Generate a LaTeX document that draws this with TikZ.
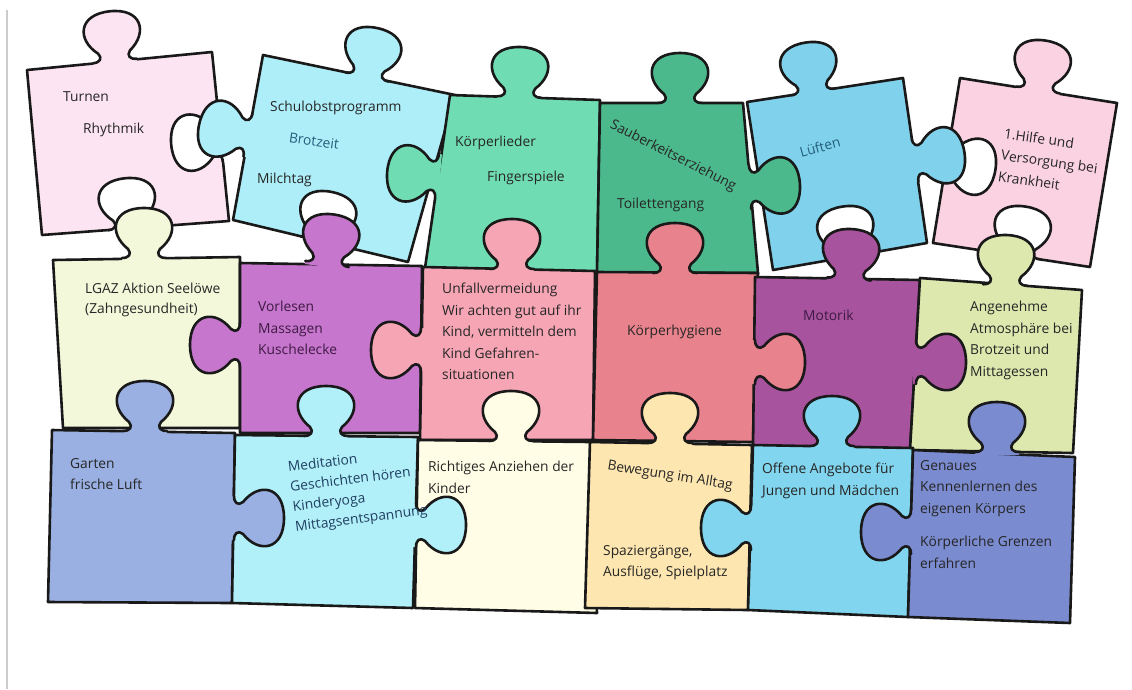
\documentclass[tikz,border=0pt]{standalone}
\usepackage{fontspec}
\setmainfont{Open Sans}

\definecolor{pinkA}{HTML}{FCE4F2}
\definecolor{blueA}{HTML}{AEEEF8}
\definecolor{greenA}{HTML}{6FDCB4}
\definecolor{greenB}{HTML}{4CB98C}
\definecolor{blueB}{HTML}{80D2EC}
\definecolor{pinkB}{HTML}{FBD2E2}
\definecolor{yellowA}{HTML}{F4F8DA}
\definecolor{purpleA}{HTML}{C676CC}
\definecolor{pinkC}{HTML}{F5A5B4}
\definecolor{redA}{HTML}{E8828C}
\definecolor{purpleB}{HTML}{A8539E}
\definecolor{greenC}{HTML}{DDE8AF}
\definecolor{blueC}{HTML}{9AB0E2}
\definecolor{cyanA}{HTML}{B1F0F9}
\definecolor{creamA}{HTML}{FFFDE6}
\definecolor{yellowB}{HTML}{FDE6AF}
\definecolor{blueD}{HTML}{82D5EE}
\definecolor{slateA}{HTML}{7A8BCF}
\definecolor{inkA}{HTML}{262626}
\definecolor{inkB}{HTML}{235E7C}
\definecolor{inkC}{HTML}{3E1A44}
\definecolor{inkD}{HTML}{213F62}

\tikzset{
  piece/.style={draw=black!90, line width=2.6pt, line join=round, line cap=round},
  txt/.style={anchor=north west, inner sep=0pt, align=left, text=inkA,
    font=\fontsize{13.8}{21.5}\selectfont},
}

% knob of a piece: base point, direction, colour
\newcommand{\puzknob}[3]{%
  \begin{scope}[shift={#1}, rotate=#2+90]
    \fill[#3] (-22,-3) -- (-22,0) .. controls (-15,0) and (-12,4) .. (-16,9)
      .. controls (-36,25) and (-32,50) .. (0,50)
      .. controls (32,50) and (36,25) .. (16,9)
      .. controls (12,4) and (15,0) .. (22,0) -- (22,-3) -- cycle;
    \draw[piece] (-22,0) .. controls (-15,0) and (-12,4) .. (-16,9)
      .. controls (-36,25) and (-32,50) .. (0,50)
      .. controls (32,50) and (36,25) .. (16,9)
      .. controls (12,4) and (15,0) .. (22,0);
  \end{scope}}
% empty hole of a piece: base point, direction into the piece
\newcommand{\puzhole}[2]{\puzknob{#1}{#2}{white}}

\begin{document}
\begin{tikzpicture}[x=1pt,y=-1pt]
\useasboundingbox (0,0) rectangle (1132,689);
\draw[black!20, line width=1.5pt] (7,10) -- (7,689);

% top row
\draw[piece, fill=pinkA] (27,70) -- (212,52) -- (229,221) -- (42,235) -- cycle;
\draw[piece, fill=blueA] (263,55) -- (455,95) -- (408,262) -- (233,220) -- cycle;
\draw[piece, fill=greenA] (450,95) -- (600,100) -- (597,272) -- (425,268) -- cycle;
\draw[piece, fill=greenB] (600,103) -- (743,103) -- (758,273) -- (597,273) -- cycle;
\draw[piece, fill=blueB] (747,102) -- (903,78) -- (927,243) -- (773,270) -- cycle;
\draw[piece, fill=pinkB] (960,78) -- (1117,103) -- (1090,267) -- (933,243) -- cycle;
% middle row
\draw[piece, fill=yellowA] (53,260) -- (240,257) -- (240,428) -- (63,428) -- cycle;
\draw[piece, fill=purpleA] (240,263) -- (422,266) -- (420,433) -- (240,433) -- cycle;
\draw[piece, fill=pinkC] (423,267) -- (595,271) -- (593,440) -- (420,440) -- cycle;
\draw[piece, fill=redA] (597,272) -- (758,273) -- (753,442) -- (593,440) -- cycle;
\draw[piece, fill=purpleB] (755,277) -- (920,280) -- (910,450) -- (753,450) -- cycle;
\draw[piece, fill=greenC] (920,278) -- (1082,290) -- (1073,453) -- (910,450) -- cycle;
% bottom row
\draw[piece, fill=blueC] (52,430) -- (235,433) -- (232,603) -- (48,602) -- cycle;
\draw[piece, fill=cyanA] (235,435) -- (418,437) -- (413,608) -- (232,603) -- cycle;
\draw[piece, fill=creamA] (418,440) -- (590,442) -- (597,613) -- (415,608) -- cycle;
\draw[piece, fill=yellowB] (590,442) -- (752,445) -- (748,610) -- (585,608) -- cycle;
\draw[piece, fill=blueD] (753,445) -- (913,448) -- (908,617) -- (748,610) -- cycle;
\draw[piece, fill=slateA] (913,450) -- (1075,457) -- (1070,623) -- (908,617) -- cycle;

% holes
\puzhole{(221,140)}{185}
\puzhole{(130,228)}{96}
\puzhole{(322,241)}{78}
\puzhole{(850,256)}{99}
\puzhole{(946,162)}{-9}
\puzhole{(1018,256)}{81}

% knobs
\puzknob{(115,61)}{96}{pinkA}
\puzknob{(367,77)}{78}{blueA}
\puzknob{(248,135)}{168}{blueA}
\puzknob{(519,97)}{88}{greenA}
\puzknob{(437,176)}{175}{greenA}
\puzknob{(680,103)}{90}{greenB}
\puzknob{(750,187)}{3}{greenB}
\puzknob{(813,92)}{99}{blueB}
\puzknob{(915,160)}{9}{blueB}
\puzknob{(1038,90)}{81}{pinkB}
\puzknob{(144,258)}{90}{yellowA}
\puzknob{(327,264)}{82}{purpleA}
\puzknob{(240,345)}{180}{purpleA}
\puzknob{(512,269)}{90}{pinkC}
\puzknob{(421,350)}{180}{pinkC}
\puzknob{(675,273)}{90}{redA}
\puzknob{(755,362)}{0}{redA}
\puzknob{(849,279)}{86}{purpleB}
\puzknob{(916,362)}{0}{purpleB}
\puzknob{(1005,285)}{88}{greenC}
\puzknob{(145,431)}{90}{blueC}
\puzknob{(234,518)}{0}{blueC}
\puzknob{(326,436)}{90}{cyanA}
\puzknob{(416,525)}{0}{cyanA}
\puzknob{(511,441)}{90}{creamA}
\puzknob{(670,443)}{90}{yellowB}
\puzknob{(832,446)}{90}{blueD}
\puzknob{(751,528)}{180}{blueD}
\puzknob{(997,452)}{90}{slateA}
\puzknob{(911,532)}{180}{slateA}

% texts
\node[txt] (turnen) at (63,91) {Turnen};
\node[txt] (rhythmik) at (83,123) {Rhythmik};
\node[txt] (schulobst) at (270,101) {Schulobstprogramm};
\node[txt, anchor=center, rotate=-8, text=inkB] (brotzeit) at (314,141) {Brotzeit};
\node[txt] (milchtag) at (257,173) {Milchtag};
\node[txt] (lieder) at (455,136) {Körperlieder};
\node[txt] (finger) at (487,171) {Fingerspiele};
\node[txt, anchor=center, rotate=-27] (sauber) at (673,156) {Sauberkeitserziehung};
\node[txt] (toilette) at (617,198) {Toilettengang};
\node[txt, anchor=center, rotate=15, text=inkB] (lueften) at (820,147) {Lüften};
\node[txt, rotate=-8] (hilfe) at (1005,128) {1.Hilfe und\\Versorgung bei\\Krankheit};
\node[txt, font=\fontsize{13.8}{20}\selectfont] (lgaz) at (85,283) {LGAZ Aktion Seelöwe\\(Zahngesundheit)};
\node[txt, text=inkC] (vorlesen) at (258,301) {Vorlesen\\Massagen\\Kuschelecke};
\node[txt] (unfall) at (442,283) {Unfallvermeidung\\Wir achten gut auf ihr\\Kind, vermitteln dem\\Kind Gefahren-\\situationen};
\node[txt] (hygiene) at (627,325) {Körperhygiene};
\node[txt, text=inkC] (motorik) at (803,310) {Motorik};
\node[txt] (atmo) at (970,301) {Angenehme\\Atmosphäre bei\\Brotzeit und\\Mittagessen};
\node[txt] (garten) at (70,458) {Garten\\frische Luft};
\node[txt, rotate=7, text=inkD, font=\fontsize{13.8}{20}\selectfont] (medi) at (287,461) {Meditation\\Geschichten hören\\Kinderyoga\\Mittagsentspannung};
\node[txt] (anziehen) at (428,461) {Richtiges Anziehen der\\Kinder};
\node[txt, anchor=center, rotate=-9] (bewegung) at (670,476) {Bewegung im Alltag};
\node[txt] (spazier) at (603,545) {Spaziergänge,\\Ausflüge, Spielplatz};
\node[txt] (offene) at (762,463) {Offene Angebote für\\Jungen und Mädchen};
\node[txt] (genau) at (920,460) {Genaues\\Kennenlernen des\\eigenen Körpers};
\node[txt] (grenzen) at (920,536) {Körperliche Grenzen\\erfahren};
\end{tikzpicture}
\end{document}
